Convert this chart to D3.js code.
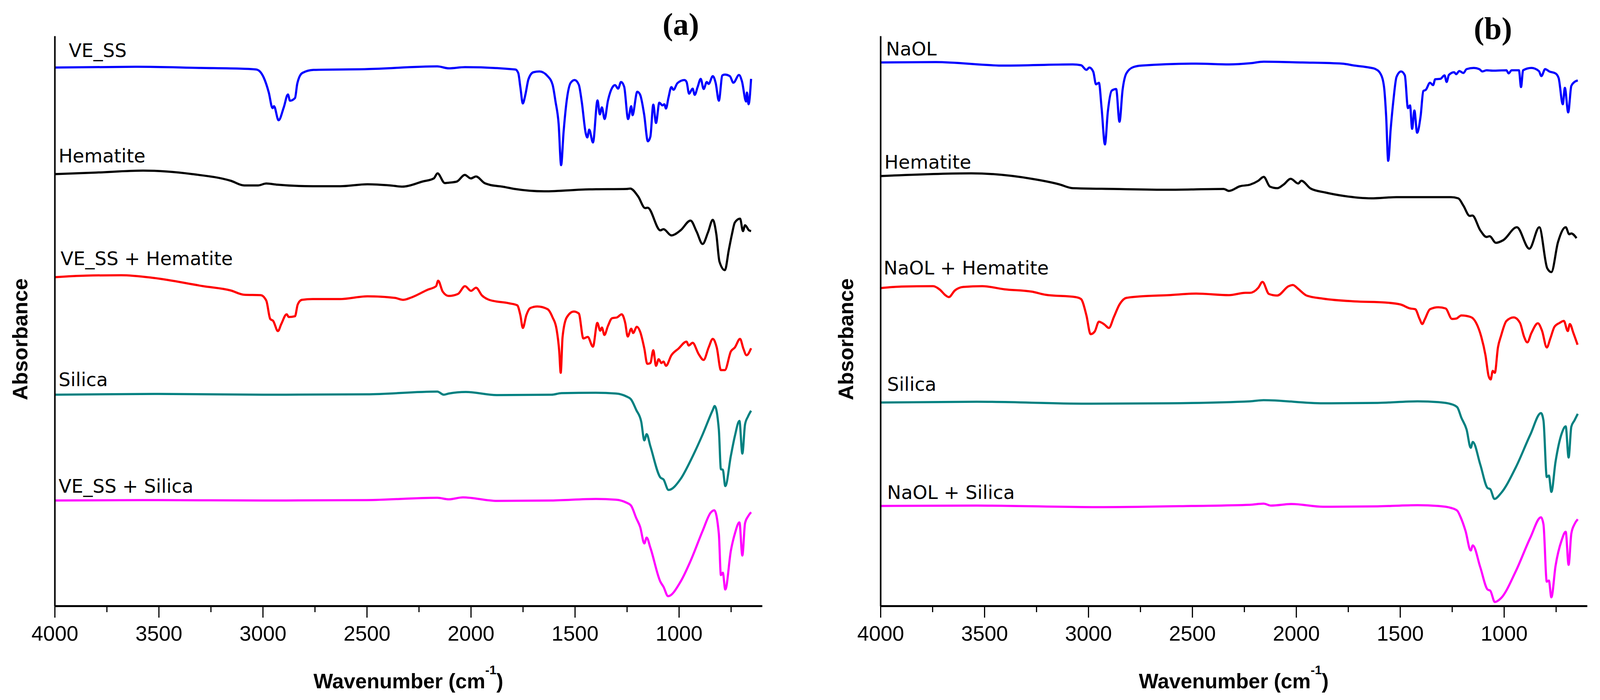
<!DOCTYPE html>
<html>
<head>
<meta charset="utf-8">
<script src="https://cdn.jsdelivr.net/npm/d3@7"></script>
<style>
  body { margin: 0; background: #fff; }
  svg { display: block; }
</style>
</head>
<body>
<svg width="4099" height="1793"></svg>
<script>
// FTIR spectra, [wavenumber (cm-1), absorbance (a.u., stacked)]
const panelALabels = ['VE_SS', 'Hematite', 'VE_SS + Hematite', 'Silica', 'VE_SS + Silica'];
const panelBLabels = ['NaOL', 'Hematite', 'NaOL + Hematite', 'Silica', 'NaOL + Silica'];
const panelTags = ['(a)', '(b)'];
const xTickValues = [4000, 3500, 3000, 2500, 2000, 1500, 1000];
const xMinorTickValues = [3750, 3250, 2750, 2250, 1750, 1250, 750];
const seriesColors = ['#0000ff', '#000000', '#ff0000', '#008080', '#ff00ff'];

const veSS = [
  [4000, 137.9], [3600, 138.1], [3300, 137.8], [3100, 137.6], [3031, 137.4], [2995, 135.3],
  [2971, 131.5], [2953, 127.5], [2946, 128.0], [2924, 124.4], [2899, 127.7], [2879, 131.0],
  [2869, 129.4], [2845, 130.1], [2834, 133.8], [2810, 136.5], [2756, 137.3], [2500, 137.5],
  [2161, 138.2], [2106, 137.7], [2028, 138.0], [1786, 137.4], [1772, 136.5], [1762, 132.9],
  [1750, 128.7], [1738, 130.9], [1723, 134.9], [1699, 136.7], [1670, 136.9], [1631, 135.7],
  [1607, 133.5], [1593, 129.2], [1578, 123.5], [1566, 112.9], [1554, 121.5], [1539, 129.5],
  [1520, 134.0], [1501, 134.7], [1481, 133.5], [1467, 129.2], [1447, 120.9], [1440, 120.0],
  [1431, 122.0], [1413, 118.7], [1391, 129.5], [1380, 125.9], [1370, 127.7], [1357, 124.7],
  [1341, 129.4], [1321, 132.7], [1307, 133.4], [1292, 132.5], [1278, 134.2], [1263, 133.0],
  [1244, 124.7], [1229, 128.0], [1223, 125.7], [1200, 131.7], [1186, 130.9], [1167, 125.9],
  [1149, 119.0], [1137, 120.2], [1123, 128.4], [1110, 123.7], [1094, 128.9], [1079, 128.2],
  [1070, 128.5], [1062, 127.4], [1050, 130.2], [1036, 132.9], [1026, 132.2], [1007, 133.9],
  [973, 134.7], [963, 134.2], [951, 131.2], [934, 132.5], [924, 130.9], [910, 132.9],
  [895, 135.0], [881, 132.4], [866, 134.2], [857, 133.7], [837, 135.7], [823, 133.9],
  [808, 129.4], [791, 135.9], [779, 136.1], [755, 135.7], [738, 134.0], [711, 136.0],
  [697, 134.4], [677, 129.2], [673, 131.5], [665, 128.5], [653, 135.0]
];

const hematiteA = [
  [4000, 110.6], [3800, 111.0], [3575, 111.5], [3338, 110.6], [3154, 108.9], [3089, 107.7],
  [3023, 107.7], [2983, 108.2], [2930, 107.9], [2760, 107.5], [2628, 107.5], [2497, 108.0],
  [2387, 107.7], [2328, 107.4], [2232, 108.7], [2178, 109.5], [2160, 110.8], [2125, 108.3],
  [2106, 108.4], [2067, 108.7], [2029, 110.4], [2000, 109.5], [1975, 110.0], [1934, 108.3],
  [1912, 107.9], [1849, 107.4], [1789, 106.8], [1647, 106.2], [1431, 106.7], [1251, 106.8],
  [1234, 106.9], [1196, 104.9], [1162, 101.9], [1150, 102.0], [1089, 96.2], [1074, 96.5],
  [1036, 94.9], [992, 96.2], [944, 98.7], [915, 95.9], [886, 92.7], [860, 95.7],
  [837, 98.9], [820, 95.2], [805, 88.2], [779, 86.0], [760, 91.2], [745, 95.2],
  [731, 98.2], [706, 99.2], [692, 96.0], [682, 97.5], [663, 96.2], [653, 96.0]
];

const veSSHematite = [
  [4000, 84.2], [3850, 84.6], [3680, 84.7], [3523, 84.0], [3286, 81.9], [3154, 80.8],
  [3089, 79.7], [3010, 79.6], [2983, 78.2], [2964, 73.5], [2950, 73.0], [2927, 70.4],
  [2911, 72.2], [2885, 74.7], [2875, 74.0], [2845, 74.2], [2832, 77.2], [2812, 78.4],
  [2760, 78.6], [2628, 78.6], [2497, 79.3], [2365, 78.9], [2326, 78.4], [2286, 79.0],
  [2207, 81.0], [2167, 81.9], [2157, 83.3], [2135, 80.5], [2106, 79.4], [2062, 79.9],
  [2028, 81.9], [1999, 80.7], [1975, 81.5], [1946, 79.5], [1912, 78.4], [1815, 77.5],
  [1777, 77.0], [1762, 74.5], [1750, 71.2], [1733, 74.5], [1714, 76.3], [1680, 76.7],
  [1631, 76.0], [1607, 73.9], [1588, 70.9], [1575, 65.2], [1568, 59.7], [1559, 68.9],
  [1539, 73.9], [1505, 75.4], [1481, 74.9], [1459, 68.5], [1438, 68.9], [1413, 66.4],
  [1392, 72.5], [1378, 70.5], [1370, 71.3], [1358, 69.4], [1341, 71.7], [1321, 73.7],
  [1297, 73.9], [1275, 74.7], [1258, 72.5], [1246, 69.0], [1229, 71.0], [1220, 69.9],
  [1202, 71.5], [1186, 70.2], [1166, 65.9], [1152, 62.0], [1137, 62.2], [1123, 65.5],
  [1110, 61.5], [1097, 63.2], [1084, 62.2], [1074, 62.6], [1062, 61.5], [1036, 64.2],
  [1002, 65.9], [963, 67.7], [953, 66.7], [934, 67.4], [905, 64.5], [881, 63.0],
  [857, 66.2], [837, 68.4], [818, 66.2], [798, 60.4], [779, 60.4], [750, 65.2],
  [731, 66.2], [706, 68.4], [690, 65.9], [675, 64.2], [653, 66.0]
];

const silicaA = [
  [4000, 54.1], [3500, 54.3], [3000, 54.1], [2500, 54.2], [2161, 54.9], [2130, 54.1],
  [2106, 54.4], [2024, 54.8], [1874, 54.0], [1612, 54.1], [1564, 54.5], [1399, 54.6],
  [1302, 54.4], [1254, 53.7], [1230, 52.9], [1205, 50.2], [1181, 47.2], [1166, 42.4],
  [1155, 44.0], [1137, 40.9], [1089, 32.9], [1074, 32.4], [1050, 29.7], [992, 32.5],
  [944, 37.2], [886, 43.9], [837, 50.2], [828, 51.2], [808, 45.2], [798, 35.0],
  [789, 34.9], [777, 30.7], [750, 38.5], [731, 43.5], [709, 47.4], [695, 39.0],
  [682, 46.5], [668, 48.5], [653, 50.0]
];

const veSSSilica = [
  [4000, 27.0], [3500, 27.1], [3000, 27.0], [2500, 27.1], [2161, 27.7], [2106, 27.3],
  [2038, 27.8], [1874, 26.9], [1612, 27.0], [1399, 27.4], [1302, 27.2], [1254, 26.5],
  [1230, 25.7], [1205, 22.5], [1186, 20.2], [1166, 16.0], [1155, 17.5], [1137, 14.9],
  [1089, 6.2], [1074, 4.9], [1052, 2.5], [992, 6.2], [944, 11.5], [886, 19.2],
  [847, 23.9], [830, 24.5], [808, 18.5], [798, 7.9], [789, 8.5], [777, 4.2],
  [750, 14.2], [731, 18.5], [709, 21.4], [695, 12.9], [682, 21.2], [668, 22.9], [653, 24.0]
];

const naOL = [
  [4000, 139.2], [3734, 139.3], [3404, 138.4], [3075, 138.7], [3035, 138.5], [3009, 137.3],
  [2995, 137.9], [2976, 136.8], [2963, 133.6], [2949, 134.0], [2936, 127.5], [2920, 118.2],
  [2906, 126.6], [2887, 132.0], [2866, 132.4], [2850, 124.0], [2835, 132.2], [2817, 136.4],
  [2784, 138.0], [2745, 138.4], [2481, 138.9], [2323, 138.7], [2222, 139.0], [2156, 139.4],
  [1970, 139.2], [1779, 138.9], [1718, 138.4], [1648, 137.9], [1618, 137.5], [1593, 136.2],
  [1577, 132.9], [1567, 125.5], [1557, 114.0], [1545, 122.2], [1532, 129.5], [1517, 135.5],
  [1495, 136.9], [1477, 135.9], [1462, 127.5], [1452, 128.2], [1442, 122.2], [1431, 126.9],
  [1418, 121.2], [1401, 125.5], [1388, 131.9], [1376, 132.2], [1356, 134.0], [1341, 133.4],
  [1331, 134.9], [1306, 135.0], [1286, 135.9], [1276, 134.2], [1265, 136.0], [1240, 136.7],
  [1230, 136.2], [1215, 137.0], [1195, 136.5], [1180, 137.5], [1145, 137.8], [1119, 137.5],
  [1104, 136.9], [1084, 137.2], [1054, 137.1], [988, 137.2], [978, 136.4], [963, 137.2],
  [928, 137.2], [918, 132.9], [908, 137.2], [868, 137.8], [832, 137.0], [820, 135.7],
  [802, 137.5], [782, 136.9], [752, 136.4], [737, 135.2], [717, 128.5], [707, 132.7],
  [691, 126.4], [676, 133.2], [661, 134.2], [645, 134.6]
];

const hematiteB = [
  [4000, 110.1], [3563, 110.8], [3272, 109.4], [3141, 108.0], [3075, 107.0], [2877, 106.8],
  [2613, 106.6], [2349, 106.8], [2323, 106.3], [2270, 107.5], [2222, 107.9], [2182, 108.9],
  [2156, 109.9], [2126, 107.4], [2091, 107.0], [2061, 107.9], [2026, 109.4], [1990, 108.2],
  [1975, 108.9], [1930, 106.9], [1860, 105.9], [1769, 105.0], [1638, 104.4], [1517, 104.7],
  [1255, 104.7], [1220, 104.4], [1195, 102.5], [1165, 99.9], [1152, 100.0], [1114, 96.2],
  [1084, 94.5], [1069, 94.7], [1039, 93.0], [1003, 93.7], [938, 97.0], [878, 91.5],
  [830, 97.0], [792, 86.5], [772, 85.5], [740, 93.2], [703, 97.0], [686, 95.2],
  [676, 95.4], [651, 94.2]
];

const naOLHematite = [
  [4000, 81.4], [3900, 81.8], [3747, 81.9], [3714, 81.0], [3688, 79.6], [3671, 79.1],
  [3642, 80.8], [3602, 81.7], [3510, 81.9], [3404, 81.1], [3272, 80.5], [3206, 79.7],
  [3061, 79.1], [3035, 78.6], [3009, 74.4], [2989, 69.6], [2969, 70.3], [2949, 72.8],
  [2923, 72.1], [2901, 71.2], [2877, 74.0], [2850, 77.2], [2817, 78.9], [2745, 79.3],
  [2613, 79.6], [2481, 80.0], [2323, 79.6], [2244, 80.2], [2222, 80.2], [2182, 81.5],
  [2162, 83.0], [2131, 79.9], [2091, 79.5], [2036, 81.9], [2016, 82.2], [1990, 81.2],
  [1950, 79.5], [1870, 78.7], [1718, 78.0], [1568, 77.7], [1497, 77.2], [1452, 76.2],
  [1427, 76.0], [1406, 73.5], [1393, 72.2], [1381, 73.4], [1356, 76.0], [1316, 76.5],
  [1281, 76.2], [1250, 73.5], [1230, 73.6], [1205, 74.4], [1160, 74.0], [1134, 72.5],
  [1109, 68.9], [1089, 64.2], [1074, 58.9], [1064, 58.0], [1054, 60.2], [1044, 59.7],
  [1029, 66.2], [1014, 69.2], [988, 73.0], [953, 73.9], [923, 72.5], [903, 68.9],
  [888, 67.5], [868, 69.9], [837, 72.4], [817, 70.5], [794, 66.2], [777, 68.5],
  [757, 71.5], [732, 72.5], [712, 73.0], [693, 70.4], [683, 72.2], [666, 69.9], [646, 66.9]
];

const silicaB = [
  [4000, 52.1], [3536, 52.3], [3009, 51.8], [2613, 51.9], [2222, 52.4], [2157, 52.7],
  [1870, 51.9], [1608, 52.0], [1416, 52.4], [1316, 52.2], [1255, 51.7], [1225, 50.9],
  [1205, 48.2], [1180, 45.2], [1160, 40.5], [1150, 42.0], [1114, 36.2], [1079, 30.2],
  [1066, 29.9], [1046, 27.4], [1014, 28.9], [943, 35.5], [873, 43.9], [822, 49.4],
  [810, 47.5], [794, 33.0], [784, 33.4], [772, 29.2], [752, 36.9], [722, 44.2],
  [703, 46.0], [689, 38.0], [676, 45.9], [661, 47.5], [645, 49.2]
];

const naOLSilica = [
  [4000, 25.6], [3536, 25.7], [2943, 25.3], [2500, 25.6], [2222, 25.9], [2157, 26.2],
  [2121, 25.7], [2021, 26.1], [1870, 25.4], [1608, 25.5], [1416, 25.8], [1316, 25.6],
  [1255, 25.1], [1225, 24.4], [1210, 22.9], [1185, 19.2], [1160, 14.2], [1150, 15.5],
  [1114, 9.9], [1079, 4.2], [1066, 3.9], [1044, 1.0], [1014, 2.0], [943, 8.9],
  [873, 17.5], [822, 22.7], [810, 20.9], [794, 6.2], [784, 6.5], [772, 2.2],
  [752, 10.2], [722, 16.9], [703, 19.0], [689, 10.5], [676, 18.5], [661, 20.9], [645, 22.2]
];

const panelASeries = [veSS, hematiteA, veSSHematite, silicaA, veSSSilica];
const panelBSeries = [naOL, hematiteB, naOLHematite, silicaB, naOLSilica];

// layout
const plotTop = 92;
const plotBottom = 1552;
const panels = [
  { left: 140, right: 1951, labels: panelALabels, series: panelASeries, tag: panelTags[0],
    tagX: 1743, tagY: 89, titleX: 70,
    labelPos: [[36, 146], [10, 416], [15, 679], [10, 989], [10, 1262]] },
  { left: 2254, right: 4063, labels: panelBLabels, series: panelBSeries, tag: panelTags[1],
    tagX: 3822, tagY: 100, titleX: 2184,
    labelPos: [[14, 142], [10, 432], [8, 703], [17, 1001], [17, 1278]] }
];

const svg = d3.select('svg');
svg.append('rect')
  .attr('width', 4099)
  .attr('height', 1793)
  .attr('fill', '#fff');

const yScale = d3.scaleLinear()
  .domain([0, 146])
  .range([plotBottom, plotBottom - 1460]);

const renderPanel = panel => {
  const xScale = d3.scaleLinear()
    .domain([4000, 600])
    .range([panel.left, panel.right]);

  const g = svg.append('g');

  // spectra
  const line = d3.line()
    .x(d => xScale(d[0]))
    .y(d => yScale(d[1]))
    .curve(d3.curveMonotoneX);

  g.selectAll('path.spectrum')
    .data(panel.series)
    .enter()
    .append('path')
      .attr('class', 'spectrum')
      .attr('d', line)
      .attr('fill', 'none')
      .attr('stroke', (d, i) => seriesColors[i])
      .attr('stroke-width', 5.5)
      .attr('stroke-linejoin', 'round');

  // series names
  g.selectAll('text.series-label')
    .data(panel.labels)
    .enter()
    .append('text')
      .attr('class', 'series-label')
      .attr('x', (d, i) => panel.left + panel.labelPos[i][0])
      .attr('y', (d, i) => panel.labelPos[i][1])
      .style('font-family', '"DejaVu Sans", sans-serif')
      .style('font-size', '48px')
      .attr('fill', '#000')
      .text(d => d);

  // y axis, a bare line
  const yAxisGroup = g.append('g')
    .attr('transform', `translate(${panel.left}, 0)`);
  d3.axisLeft(d3.scaleLinear().range([plotBottom, plotTop]))
    .tickValues([])
    .tickSizeOuter(0)(yAxisGroup);
  yAxisGroup.select('.domain')
    .attr('stroke', '#000')
    .attr('stroke-width', 4);

  // x axis, minor then major ticks
  const minorGroup = g.append('g')
    .attr('transform', `translate(0, ${plotBottom})`);
  d3.axisBottom(xScale)
    .tickValues(xMinorTickValues)
    .tickFormat('')
    .tickSize(16)
    .tickSizeOuter(0)(minorGroup);
  minorGroup.select('.domain').remove();
  minorGroup.selectAll('.tick line')
    .attr('stroke', '#000')
    .attr('stroke-width', 3);

  const xAxisGroup = g.append('g')
    .attr('transform', `translate(0, ${plotBottom})`);
  d3.axisBottom(xScale)
    .tickValues(xTickValues)
    .tickFormat(d3.format('d'))
    .tickSize(30)
    .tickSizeOuter(0)
    .tickPadding(21)(xAxisGroup);
  xAxisGroup.select('.domain')
    .attr('stroke', '#000')
    .attr('stroke-width', 5);
  xAxisGroup.selectAll('.tick line')
    .attr('stroke', '#000')
    .attr('stroke-width', 3);
  xAxisGroup.selectAll('.tick text')
    .attr('fill', '#000')
    .style('font-family', '"Liberation Sans", Arial, sans-serif')
    .style('font-size', '54px');

  // axis titles
  const xTitle = g.append('text')
    .attr('x', (panel.left + panel.right) / 2)
    .attr('y', 1763)
    .attr('text-anchor', 'middle')
    .style('font-family', '"Liberation Sans", Arial, sans-serif')
    .style('font-weight', 'bold')
    .style('font-size', '53px')
    .attr('fill', '#000');
  xTitle.append('tspan').text('Wavenumber (cm');
  xTitle.append('tspan')
    .attr('dy', -36)
    .style('font-size', '32px')
    .text('-1');
  xTitle.append('tspan')
    .attr('dy', 36)
    .text(')');

  g.append('text')
    .attr('transform', `translate(${panel.titleX}, 869) rotate(-90)`)
    .attr('text-anchor', 'middle')
    .style('font-family', '"Liberation Sans", Arial, sans-serif')
    .style('font-weight', 'bold')
    .style('font-size', '54px')
    .attr('fill', '#000')
    .text('Absorbance');

  // panel tag
  g.append('text')
    .attr('x', panel.tagX)
    .attr('y', panel.tagY)
    .attr('text-anchor', 'middle')
    .style('font-family', '"Liberation Serif", "Times New Roman", serif')
    .style('font-weight', 'bold')
    .style('font-size', '80px')
    .attr('fill', '#000')
    .text(panel.tag);
};

panels.forEach(renderPanel);
</script>
</body>
</html>
